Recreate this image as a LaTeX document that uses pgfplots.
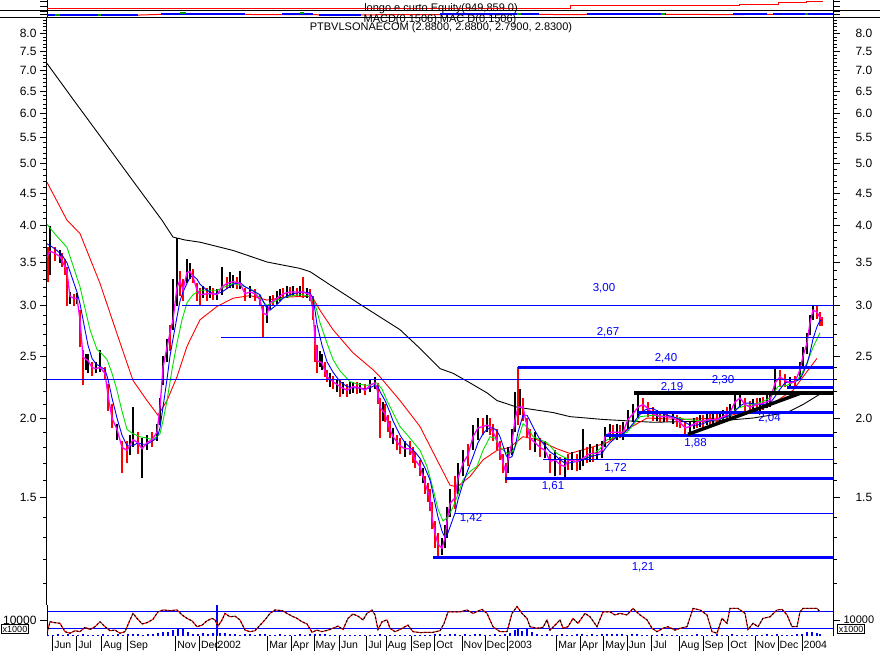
\documentclass[border=0pt]{standalone}
\usepackage{fontspec}
\setmainfont{Liberation Sans}
\usepackage{pgfplots}
\pgfplotsset{compat=1.18}
\definecolor{mblue}{RGB}{0,0,255}
\definecolor{mred}{RGB}{255,0,0}
\definecolor{mgreen}{RGB}{0,225,0}
\definecolor{mmag}{RGB}{255,0,255}
\newcommand{\ftick}{\fontsize{12pt}{14pt}\selectfont}
\newcommand{\fmon}{\fontsize{10.5pt}{12pt}\selectfont}
\newcommand{\flab}{\fontsize{11.5pt}{13pt}\selectfont}
\newcommand{\ftit}{\fontsize{11pt}{13pt}\selectfont}
\newcommand{\fsm}{\fontsize{9pt}{10pt}\selectfont}
\pgfplotsset{panel/.style={scale only axis, width=786pt, xmin=47, xmax=833, anchor=south west,
  separate axis lines, x axis line style={draw=none}, y axis line style={black, line width=1pt},
  xtick=\empty, tick align=outside, major tick length=7pt, minor tick length=4pt,
  tick style={black, line width=0.8pt}, unbounded coords=jump}}
\begin{document}
\begin{tikzpicture}
\useasboundingbox (0,0) rectangle (880pt,-651pt);
% ---------- equity panel ----------
\begin{axis}[panel, at={(47pt,-10pt)}, height=10pt, ymin=0, ymax=10, ytick={4,9}, yticklabels={,}, ytick pos=both]
\addplot[mred, line width=1pt, const plot] coordinates {(47,2)(570,4.7)(739,6)(778,7.3)(806,8.7)(823,8.7)};
\end{axis}
% ---------- MACD panel ----------
\begin{axis}[panel, at={(47pt,-17.3pt)}, height=7.3pt, ymin=0, ymax=7.3, ytick={2.6,5.6}, yticklabels={,}, ytick pos=both]
\addplot[mred, line width=1pt] coordinates {(47,2.3)(140,2.3)(160,2.9)(245,3.0)(260,2.6)(280,2.6)(315,2.7)(320,2.4)(360,2.4)(380,2.6)(440,2.6)(540,2.9)(580,2.6)(590,3.0)(670,3.0)(730,2.7)(770,3.0)(833,3.3)};
\addplot[mblue, line width=2.4pt] coordinates {(47,2.6)(138,2.6)(138,nan)(161,3.6)(245,3.6)(245,nan)(282,3.6)(313,3.6)(313,nan)(319,2.5)(361,2.5)(361,nan)(440,3.3)(539,3.3)(539,nan)(587,3.6)(666,3.6)(666,nan)(733,3.3)(767,3.3)(767,nan)(773,3.6)(833,3.6)};
\addplot[mgreen!70!black, line width=2pt] coordinates {(55,2.2)(60,2.2)(60,nan)(98,2.2)(101,2.2)(101,nan)(180,3.9)(186,3.9)(186,nan)(300,3.9)(304,3.9)(304,nan)(517,3.5)(521,3.5)(521,nan)(661,3.8)(665,3.8)(665,nan)(805,3.8)(808,3.8)};
\end{axis}
% ---------- main price panel ----------
\begin{axis}[panel, at={(47pt,-605pt)}, height=587.7pt, ymode=log, ymin=1.0193, ymax=8.479,
  ytick={1.5,2,2.5,3,3.5,4,4.5,5,5.5,6,6.5,7,7.5,8},
  yticklabels={1.5,2.0,2.5,3.0,3.5,4.0,4.5,5.0,5.5,6.0,6.5,7.0,7.5,8.0},
  minor ytick={1.1,1.2,1.3,1.4,1.6,1.7,1.8,1.9,2.1,2.2,2.3,2.4,2.6,2.7,2.8,2.9,3.1,3.2,3.3,3.4,3.6,3.7,3.8,3.9,4.1,4.2,4.3,4.4,4.6,4.7,4.8,4.9,5.1,5.2,5.3,5.4,5.6,5.7,5.8,5.9,6.1,6.2,6.3,6.4,6.6,6.7,6.8,6.9,7.1,7.2,7.3,7.4,7.6,7.7,7.8,7.9,8.1,8.2,8.3,8.4},
  ytick pos=left, yticklabel style={font=\ftick}]
% 200-day MA (black)
\addplot[black, line width=0.9pt] coordinates {(47,7.18)(75,6.25)(100,5.53)(130,4.77)(147,4.39)(162,4.08)(173,3.84)(185,3.80)(200,3.77)(233,3.66)(267,3.51)(300,3.43)(310,3.39)(333,3.21)(362,3.0)(400,2.75)(420,2.57)(440,2.39)(453,2.35)(470,2.27)(487,2.19)(497,2.13)(517,2.08)(553,2.04)(570,2.01)(603,1.99)(653,1.97)(720,1.98)(753,2.0)(787,2.04)(803,2.10)(820,2.18)};
% long MA (red)
\addplot[mred, line width=0.9pt] coordinates {(47,4.68)(57,4.37)(67,4.08)(80,3.89)(100,3.25)(117,2.71)(133,2.29)(147,2.13)(158,2.02)(167,2.13)(177,2.32)(187,2.59)(200,2.85)(217,2.99)(233,3.08)(250,3.11)(267,3.06)(283,3.09)(300,3.10)(312,3.10)(320,2.95)(333,2.75)(353,2.53)(373,2.38)(380,2.32)(400,2.13)(420,1.94)(437,1.72)(450,1.57)(457,1.56)(470,1.62)(483,1.72)(497,1.78)(510,1.80)(523,1.87)(537,1.85)(557,1.79)(570,1.76)(607,1.83)(627,1.92)(647,2.0)(680,1.99)(720,2.0)(753,2.06)(773,2.11)(793,2.21)(803,2.32)(817,2.48)};
% price bars, up (black)
\addplot[black, line width=1.6pt] coordinates {
(50,3.35)(50,3.99)(50,nan)(60,3.50)(60,3.66)(60,nan)(70,3.02)(70,3.15)(70,nan)(77,3.02)(77,3.14)(77,nan)
(86,2.38)(86,2.52)(86,nan)(88,2.35)(88,2.52)(88,nan)(96,2.35)(96,2.45)(96,nan)(100,2.36)(100,2.56)(100,nan)
(117,1.85)(117,1.96)(117,nan)(130,1.75)(130,1.88)(130,nan)(133,1.80)(133,2.08)(133,nan)(142,1.61)(142,1.86)(142,nan)
(147,1.78)(147,1.88)(147,nan)(157,1.84)(157,1.96)(157,nan)(160,1.95)(160,2.15)(160,nan)(163,2.25)(163,2.50)(163,nan)
(167,2.45)(167,2.66)(167,nan)(173,2.75)(173,3.30)(173,nan)(177,3.00)(177,3.83)(177,nan)(187,3.25)(187,3.55)(187,nan)
(190,3.30)(190,3.50)(190,nan)(203,3.08)(203,3.22)(203,nan)(210,3.08)(210,3.22)(210,nan)(217,3.06)(217,3.18)(217,nan)
(222,3.12)(222,3.45)(222,nan)(230,3.20)(230,3.38)(230,nan)(233,3.20)(233,3.35)(233,nan)(240,3.18)(240,3.40)(240,nan)
(250,3.08)(250,3.22)(250,nan)(267,2.82)(267,3.00)(267,nan)(270,2.96)(270,3.10)(270,nan)(277,3.02)(277,3.16)(277,nan)
(280,3.05)(280,3.19)(280,nan)(287,3.08)(287,3.22)(287,nan)(293,3.10)(293,3.22)(293,nan)(300,3.10)(300,3.22)(300,nan)
(307,3.08)(307,3.20)(307,nan)(320,2.40)(320,2.55)(320,nan)(322,2.38)(322,2.52)(322,nan)(330,2.24)(330,2.35)(330,nan)
(337,2.20)(337,2.30)(337,nan)(343,2.18)(343,2.28)(343,nan)(350,2.18)(350,2.28)(350,nan)(353,2.19)(353,2.28)(353,nan)
(360,2.19)(360,2.27)(360,nan)(370,2.20)(370,2.30)(370,nan)(375,2.22)(375,2.32)(375,nan)(383,1.98)(383,2.12)(383,nan)
(393,1.82)(393,1.93)(393,nan)(405,1.74)(405,1.84)(405,nan)(423,1.58)(423,1.67)(423,nan)(442,1.22)(442,1.30)(442,nan)
(445,1.25)(445,1.36)(445,nan)(447,1.30)(447,1.45)(447,nan)(450,1.40)(450,1.55)(450,nan)(458,1.52)(458,1.70)(458,nan)
(463,1.62)(463,1.78)(463,nan)(473,1.78)(473,1.95)(473,nan)(478,1.85)(478,2.00)(478,nan)(487,1.90)(487,2.02)(487,nan)
(508,1.64)(508,1.80)(508,nan)(512,1.75)(512,1.92)(512,nan)(515,1.90)(515,2.20)(515,nan)(520,2.02)(520,2.22)(520,nan)
(535,1.77)(535,1.90)(535,nan)(545,1.73)(545,1.84)(545,nan)(555,1.62)(555,1.78)(555,nan)(565,1.61)(565,1.73)(565,nan)
(572,1.66)(572,1.77)(572,nan)(580,1.66)(580,1.78)(580,nan)(583,1.68)(583,1.92)(583,nan)(590,1.71)(590,1.82)(590,nan)
(597,1.72)(597,1.82)(597,nan)(602,1.73)(602,1.84)(602,nan)(605,1.80)(605,1.94)(605,nan)(610,1.85)(610,1.96)(610,nan)
(617,1.85)(617,1.96)(617,nan)(623,1.85)(623,1.97)(623,nan)(628,1.92)(628,2.06)(628,nan)(633,1.97)(633,2.10)(633,nan)
(638,2.00)(638,2.19)(638,nan)(657,1.98)(657,2.06)(657,nan)(664,1.97)(664,2.05)(664,nan)(673,1.96)(673,2.04)(673,nan)
(690,1.90)(690,1.98)(690,nan)(694,1.92)(694,2.00)(694,nan)(700,1.94)(700,2.02)(700,nan)(707,1.95)(707,2.03)(707,nan)
(713,1.95)(713,2.03)(713,nan)(720,1.96)(720,2.04)(720,nan)(723,1.97)(723,2.06)(723,nan)(730,1.99)(730,2.10)(730,nan)
(735,2.05)(735,2.18)(735,nan)(740,2.08)(740,2.19)(740,nan)(753,2.04)(753,2.14)(753,nan)(760,2.05)(760,2.15)(760,nan)
(767,2.07)(767,2.17)(767,nan)(770,2.08)(770,2.20)(770,nan)(775,2.18)(775,2.40)(775,nan)(790,2.22)(790,2.32)(790,nan)
(800,2.30)(800,2.45)(800,nan)(803,2.40)(803,2.58)(803,nan)(807,2.52)(807,2.72)(807,nan)(810,2.70)(810,2.90)(810,nan)
(813,2.85)(813,3.00)(813,nan)};
% price bars, down (red)
\addplot[mred, line width=1.6pt] coordinates {
(48,3.27)(48,3.70)(48,nan)(55,3.52)(55,3.70)(55,nan)(62,3.45)(62,3.62)(62,nan)(65,3.35)(65,3.55)(65,nan)
(67,3.00)(67,3.45)(67,nan)(74,3.00)(74,3.13)(74,nan)(80,2.58)(80,2.95)(80,nan)(83,2.25)(83,2.56)(83,nan)
(92,2.33)(92,2.45)(92,nan)(105,2.30)(105,2.40)(105,nan)(108,2.05)(108,2.26)(108,nan)(112,1.93)(112,2.10)(112,nan)
(122,1.64)(122,1.84)(122,nan)(127,1.70)(127,1.84)(127,nan)(138,1.76)(138,1.90)(138,nan)(152,1.80)(152,1.90)(152,nan)
(170,2.55)(170,2.80)(170,nan)(180,3.10)(180,3.40)(180,nan)(183,3.05)(183,3.30)(183,nan)(193,3.25)(193,3.42)(193,nan)
(197,3.05)(197,3.25)(197,nan)(200,2.99)(200,3.20)(200,nan)(207,3.05)(207,3.20)(207,nan)(213,3.06)(213,3.20)(213,nan)
(227,3.18)(227,3.32)(227,nan)(237,3.18)(237,3.33)(237,nan)(245,3.05)(245,3.20)(245,nan)(255,3.05)(255,3.18)(255,nan)
(260,2.99)(260,3.12)(260,nan)(263,2.67)(263,3.00)(263,nan)(273,3.00)(273,3.12)(273,nan)(283,3.08)(283,3.20)(283,nan)
(290,3.10)(290,3.21)(290,nan)(297,3.10)(297,3.20)(297,nan)(303,3.08)(303,3.33)(303,nan)(310,3.05)(310,3.18)(310,nan)
(313,2.85)(313,3.10)(313,nan)(315,2.45)(315,2.80)(315,nan)(317,2.35)(317,2.60)(317,nan)(325,2.32)(325,2.45)(325,nan)
(327,2.28)(327,2.38)(327,nan)(333,2.22)(333,2.33)(333,nan)(340,2.16)(340,2.30)(340,nan)(347,2.16)(347,2.26)(347,nan)
(357,2.18)(357,2.28)(357,nan)(365,2.17)(365,2.26)(365,nan)(378,2.10)(378,2.27)(378,nan)(380,1.86)(380,2.15)(380,nan)
(385,1.97)(385,2.10)(385,nan)(388,1.90)(388,2.02)(388,nan)(390,1.86)(390,1.98)(390,nan)(397,1.78)(397,1.88)(397,nan)
(400,1.76)(400,1.86)(400,nan)(410,1.75)(410,1.84)(410,nan)(413,1.70)(413,1.80)(413,nan)(415,1.67)(415,1.77)(415,nan)
(420,1.62)(420,1.72)(420,nan)(425,1.52)(425,1.62)(425,nan)(428,1.48)(428,1.58)(428,nan)(430,1.43)(430,1.55)(430,nan)
(432,1.34)(432,1.48)(432,nan)(435,1.25)(435,1.38)(435,nan)(438,1.21)(438,1.32)(438,nan)(455,1.44)(455,1.62)(455,nan)
(468,1.68)(468,1.82)(468,nan)(483,1.88)(483,2.00)(483,nan)(490,1.88)(490,2.00)(490,nan)(493,1.84)(493,1.96)(493,nan)
(497,1.78)(497,1.92)(497,nan)(500,1.72)(500,1.84)(500,nan)(503,1.64)(503,1.76)(503,nan)(506,1.58)(506,1.70)(506,nan)
(518,1.95)(518,2.40)(518,nan)(523,1.98)(523,2.15)(523,nan)(527,1.86)(527,2.00)(527,nan)(530,1.78)(530,1.92)(530,nan)
(540,1.74)(540,1.86)(540,nan)(550,1.64)(550,1.76)(550,nan)(560,1.63)(560,1.74)(560,nan)(568,1.66)(568,1.76)(568,nan)
(577,1.65)(577,1.76)(577,nan)(587,1.70)(587,1.80)(587,nan)(593,1.71)(593,1.80)(593,nan)(613,1.85)(613,1.95)(613,nan)
(620,1.86)(620,1.95)(620,nan)(643,2.04)(643,2.15)(643,nan)(648,2.01)(648,2.12)(648,nan)(653,1.98)(653,2.08)(653,nan)
(660,1.97)(660,2.05)(660,nan)(667,1.97)(667,2.05)(667,nan)(677,1.94)(677,2.02)(677,nan)(680,1.93)(680,2.01)(680,nan)
(685,1.88)(685,1.97)(685,nan)(697,1.93)(697,2.01)(697,nan)(703,1.94)(703,2.02)(703,nan)(710,1.95)(710,2.03)(710,nan)
(717,1.95)(717,2.03)(717,nan)(727,1.98)(727,2.08)(727,nan)(745,2.05)(745,2.15)(745,nan)(750,2.03)(750,2.13)(750,nan)
(757,2.05)(757,2.15)(757,nan)(763,2.06)(763,2.16)(763,nan)(780,2.24)(780,2.38)(780,nan)(785,2.24)(785,2.34)(785,nan)
(795,2.23)(795,2.33)(795,nan)(817,2.86)(817,2.99)(817,nan)(820,2.79)(820,2.93)(820,nan)(822,2.79)(822,2.88)(822,nan)};
% medium MA (green)
\addplot[mgreen, line width=0.9pt] coordinates {(47,4.02)(57,3.85)(67,3.70)(80,3.21)(90,2.75)(97,2.56)(102,2.52)(107,2.47)(112,2.35)(117,2.21)(122,2.05)(127,1.92)(133,1.89)(140,1.87)(147,1.86)(153,1.85)(160,1.89)(163,1.98)(167,2.13)(172,2.38)(177,2.62)(182,2.85)(187,3.03)(193,3.12)(200,3.17)(208,3.17)(217,3.17)(225,3.21)(233,3.25)(243,3.22)(253,3.17)(260,3.08)(267,3.00)(277,3.06)(285,3.09)(293,3.11)(302,3.12)(310,3.10)(315,3.02)(320,2.82)(327,2.62)(333,2.47)(340,2.37)(350,2.28)(358,2.26)(367,2.25)(377,2.27)(382,2.22)(387,2.13)(393,2.04)(400,1.94)(410,1.86)(420,1.78)(427,1.68)(433,1.55)(438,1.44)(443,1.38)(448,1.40)(453,1.45)(458,1.52)(463,1.60)(470,1.65)(477,1.68)(483,1.78)(490,1.87)(495,1.86)(500,1.80)(507,1.76)(512,1.77)(517,1.83)(523,1.96)(528,1.93)(533,1.87)(540,1.85)(547,1.83)(557,1.76)(563,1.74)(570,1.72)(580,1.72)(590,1.74)(600,1.79)(607,1.85)(617,1.87)(627,1.90)(633,1.95)(640,2.01)(653,2.02)(670,2.01)(687,1.99)(703,1.98)(720,1.99)(730,2.02)(737,2.07)(745,2.09)(753,2.10)(762,2.12)(770,2.15)(778,2.24)(787,2.25)(797,2.29)(802,2.35)(807,2.44)(813,2.58)(820,2.72)};
% short MA (blue)
\addplot[mblue, line width=0.9pt] coordinates {(47,3.75)(55,3.68)(62,3.60)(67,3.50)(72,3.32)(77,3.15)(80,3.02)(84,2.80)(88,2.60)(92,2.48)(96,2.43)(100,2.41)(105,2.38)(108,2.30)(112,2.15)(117,2.00)(122,1.88)(127,1.81)(133,1.81)(138,1.83)(142,1.82)(147,1.82)(152,1.84)(157,1.86)(160,1.93)(163,2.08)(167,2.30)(170,2.50)(173,2.66)(177,2.88)(180,3.05)(183,3.15)(187,3.25)(190,3.32)(193,3.34)(197,3.30)(200,3.24)(207,3.17)(213,3.13)(217,3.13)(222,3.15)(227,3.19)(233,3.24)(240,3.26)(245,3.21)(250,3.18)(255,3.15)(260,3.12)(263,3.05)(267,2.97)(270,2.95)(277,3.01)(283,3.08)(290,3.12)(297,3.14)(303,3.15)(310,3.14)(313,3.08)(315,2.95)(317,2.80)(322,2.60)(327,2.45)(333,2.36)(340,2.28)(347,2.24)(353,2.23)(360,2.23)(365,2.22)(370,2.23)(375,2.25)(378,2.24)(380,2.20)(385,2.13)(390,2.04)(393,1.98)(400,1.88)(405,1.83)(410,1.80)(415,1.77)(420,1.73)(425,1.67)(430,1.60)(432,1.55)(435,1.47)(438,1.40)(442,1.33)(445,1.30)(447,1.31)(450,1.35)(455,1.42)(458,1.49)(463,1.58)(468,1.66)(473,1.74)(478,1.83)(483,1.89)(487,1.92)(490,1.93)(493,1.93)(497,1.91)(500,1.87)(503,1.81)(506,1.75)(508,1.73)(512,1.74)(515,1.80)(518,1.90)(523,2.02)(527,2.02)(530,1.98)(535,1.91)(540,1.85)(545,1.81)(550,1.77)(555,1.75)(560,1.72)(565,1.70)(568,1.70)(577,1.71)(583,1.72)(590,1.74)(597,1.75)(602,1.76)(605,1.79)(610,1.83)(617,1.87)(623,1.89)(628,1.92)(633,1.96)(638,2.01)(643,2.05)(648,2.07)(653,2.07)(660,2.04)(667,2.02)(673,2.01)(680,1.99)(685,1.97)(690,1.95)(697,1.95)(703,1.96)(710,1.98)(717,1.99)(723,2.00)(730,2.02)(735,2.05)(740,2.09)(745,2.11)(750,2.11)(757,2.10)(763,2.10)(770,2.11)(775,2.16)(780,2.22)(785,2.27)(790,2.28)(795,2.28)(800,2.30)(803,2.35)(807,2.43)(810,2.53)(813,2.66)(817,2.78)(820,2.84)(822,2.85)};
% close (magenta)
\addplot[mmag, line width=1.3pt] coordinates {(47,3.57)(50,3.65)(55,3.62)(60,3.58)(62,3.53)(65,3.45)(67,3.38)(70,3.10)(74,3.08)(77,3.08)(80,2.85)(83,2.49)(88,2.46)(92,2.40)(96,2.39)(100,2.40)(105,2.35)(108,2.17)(112,2.00)(117,1.92)(122,1.80)(127,1.78)(133,1.85)(138,1.83)(142,1.79)(147,1.83)(152,1.85)(157,1.90)(160,2.08)(163,2.40)(167,2.58)(170,2.72)(173,2.85)(177,3.20)(180,3.29)(183,3.17)(187,3.38)(190,3.39)(193,3.33)(197,3.17)(200,3.12)(207,3.13)(213,3.13)(217,3.12)(222,3.21)(227,3.25)(233,3.27)(240,3.25)(245,3.13)(250,3.15)(255,3.13)(260,3.06)(263,2.92)(267,2.90)(270,3.03)(277,3.08)(283,3.13)(290,3.15)(297,3.15)(303,3.15)(310,3.12)(313,2.95)(315,2.65)(317,2.46)(322,2.44)(327,2.32)(333,2.28)(340,2.24)(347,2.21)(353,2.24)(360,2.23)(365,2.21)(370,2.25)(375,2.27)(378,2.19)(380,2.08)(385,2.03)(390,1.92)(393,1.87)(400,1.81)(405,1.79)(410,1.79)(415,1.72)(420,1.68)(425,1.58)(430,1.50)(432,1.40)(435,1.32)(438,1.27)(442,1.25)(445,1.30)(447,1.38)(450,1.47)(455,1.50)(458,1.61)(463,1.70)(468,1.75)(473,1.87)(478,1.93)(483,1.94)(487,1.95)(490,1.94)(493,1.90)(497,1.85)(500,1.78)(503,1.70)(506,1.64)(508,1.72)(512,1.83)(515,1.99)(518,2.08)(523,2.08)(527,1.94)(530,1.86)(535,1.83)(540,1.80)(545,1.78)(550,1.71)(555,1.72)(560,1.69)(565,1.68)(568,1.72)(577,1.71)(583,1.73)(590,1.76)(597,1.76)(602,1.78)(605,1.87)(610,1.90)(617,1.90)(623,1.90)(628,1.99)(633,2.03)(638,2.08)(643,2.10)(648,2.07)(653,2.03)(660,2.01)(667,2.01)(673,2.00)(680,1.97)(685,1.93)(690,1.94)(697,1.97)(703,1.98)(710,1.99)(717,1.99)(723,2.01)(730,2.04)(735,2.12)(740,2.15)(745,2.10)(750,2.08)(757,2.10)(763,2.11)(770,2.13)(775,2.27)(780,2.32)(785,2.29)(790,2.27)(795,2.28)(800,2.38)(803,2.50)(807,2.62)(810,2.82)(813,2.95)(817,2.93)(820,2.87)(822,2.86)};
% support / resistance lines
\addplot[mblue, line width=1pt] coordinates {(182,3.0)(833,3.0)};
\addplot[mblue, line width=1pt] coordinates {(221,2.67)(833,2.67)};
\addplot[mblue, line width=1pt] coordinates {(47,2.30)(833,2.30)};
\addplot[mblue, line width=3pt] coordinates {(517.5,2.40)(833,2.40)};
\addplot[mblue, line width=3pt] coordinates {(787,2.23)(833,2.23)};
\addplot[black, line width=3.5pt] coordinates {(634,2.19)(833,2.19)};
\addplot[mblue, line width=3pt] coordinates {(637,2.04)(833,2.04)};
\addplot[mblue, line width=3pt] coordinates {(605,1.88)(833,1.88)};
\addplot[mblue, line width=1pt] coordinates {(543,1.72)(833,1.72)};
\addplot[mblue, line width=3pt] coordinates {(505,1.61)(833,1.61)};
\addplot[mblue, line width=1pt] coordinates {(455,1.42)(833,1.42)};
\addplot[mblue, line width=3pt] coordinates {(433,1.21)(833,1.21)};
\addplot[black, line width=3.5pt] coordinates {(688,1.886)(800,2.186)};
\node[text=mblue, font=\flab] at (axis cs:604,3.19) {3,00};
\node[text=mblue, font=\flab] at (axis cs:608,2.727) {2,67};
\node[text=mblue, font=\flab] at (axis cs:666,2.483) {2,40};
\node[text=mblue, font=\flab] at (axis cs:723,2.29) {2,30};
\node[text=mblue, font=\flab] at (axis cs:672,2.232) {2,19};
\node[text=mblue, font=\flab] at (axis cs:769.5,1.996) {2,04};
\node[text=mblue, font=\flab] at (axis cs:695.5,1.824) {1,88};
\node[text=mblue, font=\flab] at (axis cs:615.5,1.667) {1,72};
\node[text=mblue, font=\flab] at (axis cs:553,1.562) {1,61};
\node[text=mblue, font=\flab] at (axis cs:471,1.392) {1,42};
\node[text=mblue, font=\flab] at (axis cs:643,1.169) {1,21};
\end{axis}
% right-hand labels of price panel
\begin{axis}[panel, at={(47pt,-605pt)}, height=587.7pt, ymode=log, ymin=1.0193, ymax=8.479,
  axis line style={draw=none},
  ytick={1.5,2,2.5,3,3.5,4,4.5,5,5.5,6,6.5,7,7.5,8},
  yticklabels={1.5,2.0,2.5,3.0,3.5,4.0,4.5,5.0,5.5,6.0,6.5,7.0,7.5,8.0},
  minor ytick={1.1,1.2,1.3,1.4,1.6,1.7,1.8,1.9,2.1,2.2,2.3,2.4,2.6,2.7,2.8,2.9,3.1,3.2,3.3,3.4,3.6,3.7,3.8,3.9,4.1,4.2,4.3,4.4,4.6,4.7,4.8,4.9,5.1,5.2,5.3,5.4,5.6,5.7,5.8,5.9,6.1,6.2,6.3,6.4,6.6,6.7,6.8,6.9,7.1,7.2,7.3,7.4,7.6,7.7,7.8,7.9,8.1,8.2,8.3,8.4},
  ytick pos=right, yticklabel pos=right, yticklabel style={font=\ftick, xshift=12pt}]
\addplot[draw=none] coordinates {(50,2)};
\end{axis}
% ---------- oscillator / volume panel ----------
\begin{axis}[panel, at={(47pt,-636pt)}, height=31pt, ymin=0, ymax=100, ytick={51.6}, yticklabels={10000},
  ytick pos=left, yticklabel style={font=\ftick}]
\addplot[mblue, ycomb, line width=1.8pt] coordinates {(48,4)(53,3)(58,5)(63,3)(68,6)(73,4)(78,3)(83,5)(88,4)(93,3)(98,4)(103,6)(108,4)(113,3)(118,5)(123,4)(128,6)(133,8)(138,5)(143,4)(148,6)(153,5)(158,10)(163,14)(168,12)(173,18)(178,22)(183,27)(188,12)(193,8)(198,6)(203,9)(208,7)(213,11)(217,100)(220,9)(225,11)(230,7)(235,5)(240,4)(245,6)(250,5)(255,4)(260,8)(265,5)(270,4)(275,3)(280,5)(285,3)(290,4)(295,3)(300,6)(305,4)(310,5)(315,8)(320,6)(325,5)(330,4)(335,3)(340,2)(345,3)(350,4)(355,2)(360,3)(365,2)(370,4)(375,3)(380,5)(385,4)(390,3)(395,2)(400,3)(405,2)(410,4)(415,3)(420,2)(425,3)(430,4)(435,5)(440,6)(445,4)(450,5)(455,6)(460,4)(465,5)(470,4)(475,5)(480,6)(485,4)(490,3)(495,5)(500,4)(505,6)(510,10)(515,18)(518,24)(522,16)(527,22)(532,12)(537,6)(542,4)(547,5)(552,3)(557,4)(562,5)(567,3)(572,4)(577,6)(582,5)(587,4)(592,5)(597,4)(602,6)(607,5)(612,7)(617,6)(622,5)(627,4)(632,6)(637,5)(642,4)(647,3)(652,4)(657,3)(662,5)(667,3)(672,4)(677,3)(682,4)(687,3)(692,4)(697,5)(702,3)(707,4)(712,3)(717,5)(722,4)(727,3)(732,5)(737,4)(742,3)(747,4)(752,3)(757,4)(762,3)(767,5)(772,4)(777,5)(782,4)(787,3)(792,4)(797,5)(802,8)(807,12)(812,13)(817,10)(820,7)};
\addplot[mblue, line width=1pt] coordinates {(47,80)(833,80)};
\addplot[mblue, line width=1pt] coordinates {(47,25)(833,25)};
\addplot[mred, line width=1pt] coordinates {(47,9)(50,46)(55,43)(60,41)(65,14)(70,9)(75,17)(80,14)(85,28)(90,21)(95,30)(100,46)(105,30)(110,17)(115,19)(120,9)(125,14)(130,52)(133,73)(137,57)(142,39)(147,43)(153,54)(158,78)(163,84)(170,82)(177,84)(182,68)(187,57)(192,49)(197,30)(202,35)(207,49)(212,57)(215,52)(218,32)(222,52)(225,73)(230,62)(235,64)(240,52)(245,19)(250,14)(255,17)(260,35)(265,52)(270,73)(275,84)(282,82)(287,73)(292,64)(297,57)(302,46)(307,39)(312,12)(317,19)(322,14)(328,19)(333,25)(338,32)(343,21)(348,57)(353,71)(358,64)(363,52)(367,73)(372,84)(375,68)(378,21)(382,46)(387,52)(390,25)(395,14)(400,21)(405,30)(408,35)(413,14)(420,11)(427,12)(433,12)(440,17)(444,40)(448,78)(460,78)(467,84)(473,73)(482,86)(487,73)(493,30)(500,14)(507,14)(512,73)(517,95)(522,73)(527,57)(530,30)(537,25)(543,28)(547,52)(550,19)(555,35)(560,52)(563,25)(568,30)(573,57)(578,41)(585,73)(590,62)(597,30)(603,78)(610,78)(615,68)(620,73)(627,68)(633,89)(640,68)(647,52)(652,25)(657,14)(663,25)(668,30)(675,19)(680,25)(687,30)(693,89)(700,84)(707,68)(712,14)(717,9)(722,57)(727,41)(730,89)(738,89)(745,73)(748,21)(753,41)(758,30)(763,57)(770,62)(777,84)(782,86)(787,68)(792,30)(797,30)(800,78)(803,89)(813,89)(817,89)(820,78)};
\addplot[black, line width=1pt, dash pattern=on 2pt off 2pt] coordinates {(47,9)(50,46)(55,43)(60,41)(65,14)(70,9)(75,17)(80,14)(85,28)(90,21)(95,30)(100,46)(105,30)(110,17)(115,19)(120,9)(125,14)(130,52)(133,73)(137,57)(142,39)(147,43)(153,54)(158,78)(163,84)(170,82)(177,84)(182,68)(187,57)(192,49)(197,30)(202,35)(207,49)(212,57)(215,52)(218,32)(222,52)(225,73)(230,62)(235,64)(240,52)(245,19)(250,14)(255,17)(260,35)(265,52)(270,73)(275,84)(282,82)(287,73)(292,64)(297,57)(302,46)(307,39)(312,12)(317,19)(322,14)(328,19)(333,25)(338,32)(343,21)(348,57)(353,71)(358,64)(363,52)(367,73)(372,84)(375,68)(378,21)(382,46)(387,52)(390,25)(395,14)(400,21)(405,30)(408,35)(413,14)(420,11)(427,12)(433,12)(440,17)(444,40)(448,78)(460,78)(467,84)(473,73)(482,86)(487,73)(493,30)(500,14)(507,14)(512,73)(517,95)(522,73)(527,57)(530,30)(537,25)(543,28)(547,52)(550,19)(555,35)(560,52)(563,25)(568,30)(573,57)(578,41)(585,73)(590,62)(597,30)(603,78)(610,78)(615,68)(620,73)(627,68)(633,89)(640,68)(647,52)(652,25)(657,14)(663,25)(668,30)(675,19)(680,25)(687,30)(693,89)(700,84)(707,68)(712,14)(717,9)(722,57)(727,41)(730,89)(738,89)(745,73)(748,21)(753,41)(758,30)(763,57)(770,62)(777,84)(782,86)(787,68)(792,30)(797,30)(800,78)(803,89)(813,89)(817,89)(820,78)};
\end{axis}
\begin{axis}[panel, at={(47pt,-636pt)}, height=31pt, ymin=0, ymax=100, axis line style={draw=none},
  ytick={51.6}, yticklabels={10000}, ytick pos=right, yticklabel pos=right, yticklabel style={font=\ftit, xshift=0pt}]
\addplot[draw=none] coordinates {(50,50)};
\end{axis}
% ---------- date strip ----------
\begin{axis}[scale only axis, width=786pt, height=15pt, at={(47pt,-651pt)}, anchor=south west,
  xmin=47, xmax=833, ymin=0, ymax=1, axis line style={draw=none}, ytick=\empty,
  xtick={52.7,76.7,101.7,127.7,175.7,199.3,216,267.7,291,314,339.3,366.7,386,411,434.7,462,485,507,556.7,580,603.7,627,651.7,679,703,728.7,755,778,802},
  xticklabels={Jun,Jul,Aug,Sep,Nov,Dec,2002,Mar,Apr,May,Jun,Jul,Aug,Sep,Oct,Nov,Dec,2003,Mar,Apr,May,Jun,Jul,Aug,Sep,Oct,Nov,Dec,2004},
  major tick length=0pt, xmajorgrids, major grid style={black, line width=1pt},
  xticklabel style={font=\fmon, anchor=base west, inner sep=0pt, xshift=1.5pt, yshift=2.5pt}]
\addplot[draw=none] coordinates {(50,0.5)};
\end{axis}
% panel separators and titles
\draw[black, line width=1pt] (0pt,-10pt) -- (880pt,-10pt);
\draw[black, line width=1pt] (0pt,-17.3pt) -- (880pt,-17.3pt);
\node[font=\ftit] at (441pt,-9pt) {longo e curto Equity(949,859.0)};
\node[font=\ftit] at (440pt,-20pt) {MACD(0.1506),MAC D(0.1506)};
\node[font=\ftit] at (441pt,-27.5pt) {PTBVLSONAECOM (2.8800, 2.8800, 2.7900, 2.8300)};
\node[draw=black, line width=0.8pt, font=\fsm, inner sep=1pt] at (15pt,-629pt) {x1000};
\node[draw=black, line width=0.8pt, font=\fsm, inner sep=1pt] at (851pt,-629pt) {x1000};
\end{tikzpicture}
\end{document}
